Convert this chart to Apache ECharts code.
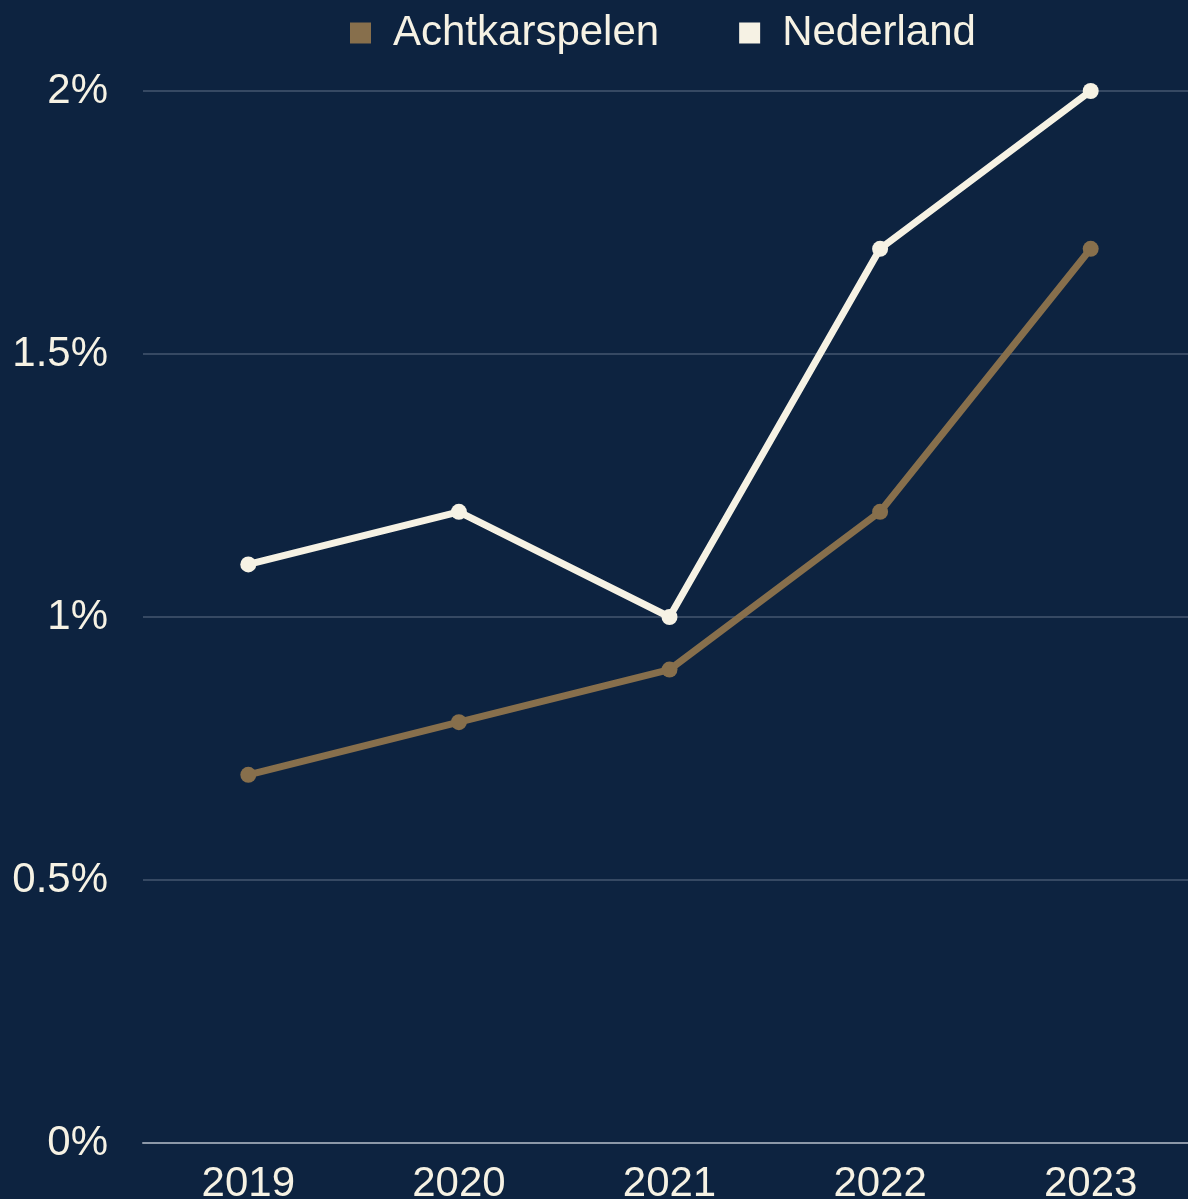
<!DOCTYPE html>
<html>
<head>
<meta charset="utf-8">
<script src="https://cdn.jsdelivr.net/npm/echarts@6/dist/echarts.min.js"></script>
<style>
  html, body { margin: 0; padding: 0; background: #0d2340; }
  #chart { width: 1188px; height: 1199px; }
</style>
</head>
<body>
<div id="chart"></div>
<script>
var years = ['2019', '2020', '2021', '2022', '2023'];
var achtkarspelen = [0.7, 0.8, 0.9, 1.2, 1.7];
var nederland = [1.1, 1.2, 1.0, 1.7, 2.0];

var brown = '#876f4c';
var cream = '#f6f2e4';

var myChart = echarts.init(document.getElementById('chart'));

option = {
    backgroundColor: '#0d2340',
    textStyle: { fontFamily: 'Liberation Sans, Arial, sans-serif' },
    legend: {
        top: 7,
        left: 345,
        icon: 'rect',
        itemWidth: 21,
        itemHeight: 21,
        itemGap: 80,
        textStyle: { color: cream, fontSize: 42, fontFamily: 'Liberation Sans', padding: [0, 0, 0, 17] },
        data: ['Achtkarspelen', 'Nederland']
    },
    grid: { left: 143, right: -8, top: 91, bottom: 56, outerBoundsMode: 'none', containLabel: false },
    xAxis: {
        type: 'category',
        data: years,
        axisLine: { lineStyle: { color: '#8c98a8', width: 2 } },
        axisTick: { show: false },
        axisLabel: { color: cream, fontSize: 42, margin: 20 }
    },
    yAxis: {
        type: 'value',
        min: 0,
        max: 2,
        interval: 0.5,
        axisLabel: { color: cream, fontSize: 42, margin: 35, formatter: '{value}%' },
        splitLine: { lineStyle: { color: '#45576f', width: 1.5 } }
    },
    series: [
        {
            name: 'Achtkarspelen',
            type: 'line',
            data: achtkarspelen,
            color: brown,
            symbol: 'circle',
            symbolSize: 16,
            lineStyle: { width: 7 }
        },
        {
            name: 'Nederland',
            type: 'line',
            data: nederland,
            color: cream,
            symbol: 'circle',
            symbolSize: 16,
            lineStyle: { width: 7 }
        }
    ]
};

myChart.setOption(option);
</script>
</body>
</html>
